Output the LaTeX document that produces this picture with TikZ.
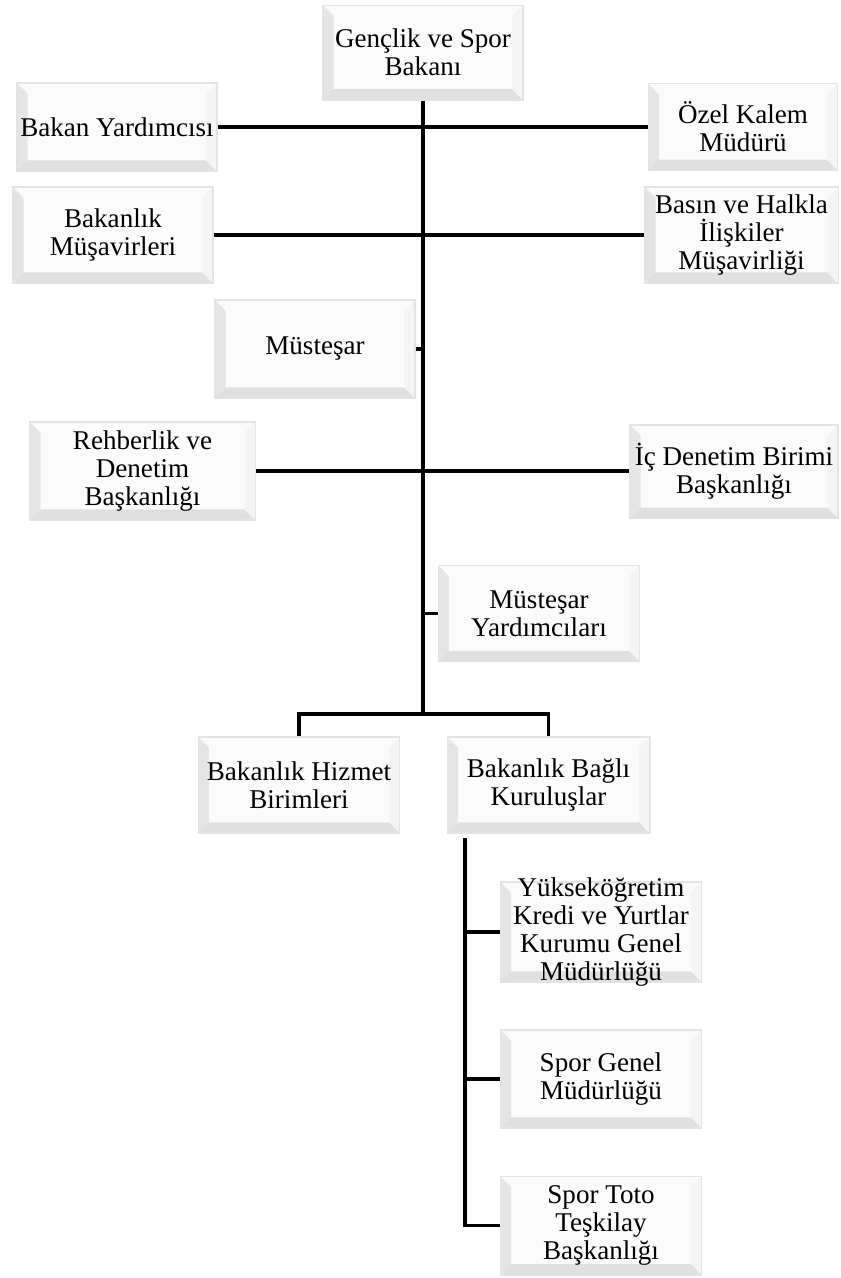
\documentclass[tikz,border=0pt]{standalone}
\usepackage{fontspec}
\setmainfont{Liberation Serif}
\usepackage{tikz}
\usetikzlibrary{calc}

\tikzset{
  birim/.style={draw=gray!22, line width=1pt, fill=gray!3, align=center, inner sep=0pt,
    minimum width=150pt, minimum height=72pt,
    font=\fontsize{20.3}{21}\selectfont,
    path picture={
      \coordinate (sw) at (path picture bounding box.south west);
      \coordinate (ne) at (path picture bounding box.north east);
      \fill[gray!20] (sw) -- ++(8pt,8pt) -- ($(sw|-ne)+(8pt,-8pt)$) -- (sw|-ne) -- cycle;
      \fill[gray!24] (sw) -- ++(8pt,8pt) -- ($(ne|-sw)+(-8pt,8pt)$) -- (ne|-sw) -- cycle;
      \fill[gray!9] (ne|-sw) -- ++(-8pt,8pt) -- ($(ne)+(-8pt,-8pt)$) -- (ne) -- cycle;
    }},
  hat/.style={line width=2.3pt}
}

\begin{document}
\begin{tikzpicture}[x=0.75pt,y=-0.75pt]
    \useasboundingbox (0,0) rectangle (840,1278);

    \node[birim, minimum height=71pt] (bakan) at (423,52.5) {Gençlik ve Spor\\Bakanı};
    \node[birim, minimum height=66pt] (yardimci) at (117,127) {Bakan Yardımcısı};
    \node[birim, minimum width=142pt, minimum height=65pt] (ozel) at (743,127) {Özel Kalem\\Müdürü};
    \node[birim] (musavir) at (113,235) {Bakanlık\\Müşavirleri};
    \node[birim, minimum width=145pt] (basin) at (741.5,235) {Basın ve Halkla\\İlişkiler\\Müşavirliği};
    \node[birim, minimum height=73.5pt] (mustesar) at (315,349) {Müsteşar};
    \node[birim, minimum width=169pt, minimum height=73.5pt] (rehber) at (142.5,471) {Rehberlik ve\\Denetim\\Başkanlığı};
    \node[birim, minimum width=156pt, minimum height=70pt] (icden) at (734,471.5) {İç Denetim Birimi\\Başkanlığı};
    \node[birim, minimum width=151pt] (myard) at (539,613.5) {Müsteşar\\Yardımcıları};
    \node[birim, minimum width=151pt] (hizmet) at (299,785) {Bakanlık Hizmet\\Birimleri};
    \node[birim, minimum width=152pt] (bagli) at (548.5,785) {Bakanlık Bağlı\\Kuruluşlar};
    \node[birim, minimum width=151pt, minimum height=75pt, inner ysep=-7pt] (kyk) at (601,932) {Yükseköğretim\\Kredi ve Yurtlar\\Kurumu Genel\\Müdürlüğü};
    \node[birim, minimum width=151pt, minimum height=73.5pt] (sgm) at (601,1079) {Spor Genel\\Müdürlüğü};
    \node[birim, minimum width=151pt, minimum height=74pt] (toto) at (601,1225.5) {Spor Toto\\Teşkilay\\Başkanlığı};

    \coordinate (govde) at (423,714);
    \coordinate (kok) at (465,838);

    \draw[hat] (bakan.south) -- (govde);
    \draw[hat] (yardimci.east) -- (ozel.west |- yardimci.east);
    \draw[hat] (musavir.east) -- (basin.west);
    \draw[hat] (mustesar.east) -- (mustesar.east -| govde);
    \draw[hat] (rehber.east) -- (icden.west |- rehber.east);
    \draw[hat] (myard.west) -- (myard.west -| govde);
    \draw[hat] (hizmet.north) |- (govde) -| (bagli.north);

    \draw[hat] (kok) |- (toto.west);
    \draw[hat] (kok |- kyk.west) -- (kyk.west);
    \draw[hat] (kok |- sgm.west) -- (sgm.west);
\end{tikzpicture}
\end{document}
